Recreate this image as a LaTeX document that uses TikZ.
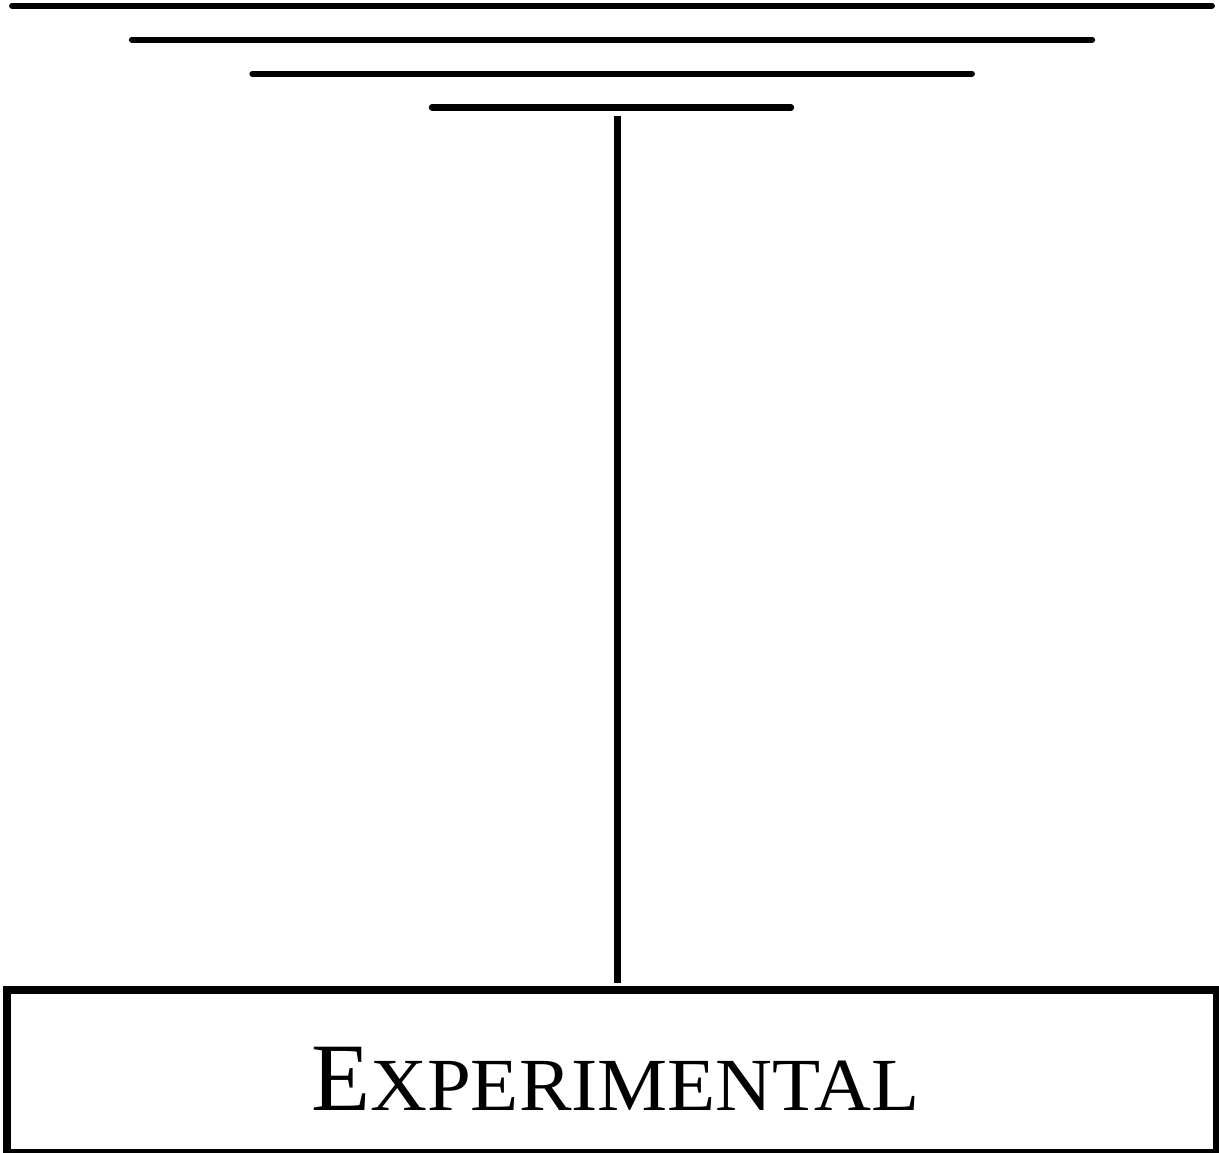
\documentclass[tikz,border=0pt]{standalone}
\usepackage{fontspec}
\setmainfont{Liberation Serif}
\begin{document}
\begin{tikzpicture}[x=1pt,y=-1pt,
  bar/.style={line width=6.3pt,line cap=round},
  stem/.style={line width=7pt},
  frame/.style={draw,line width=8pt,minimum width=1210pt,minimum height=163pt,inner sep=0pt},
  title/.style={inner sep=0pt,anchor=base west}]
\useasboundingbox (0,0) rectangle (1219,1153);
% stacked horizontal bars
\coordinate (b1l) at (12.2,5.7);   \coordinate (b1r) at (1211.8,5.7);
\coordinate (b2l) at (132,39.7);   \coordinate (b2r) at (1092,39.7);
\coordinate (b3l) at (252.5,73.8); \coordinate (b3r) at (971.8,73.8);
\coordinate (b4l) at (432,107.5);  \coordinate (b4r) at (791,107.5);
\draw[bar] (b1l) -- (b1r);
\draw[bar] (b2l) -- (b2r);
\draw[bar] (b3l) -- (b3r);
\draw[bar] (b4l) -- (b4r);
% box
\node[frame] (box) at (612,1071.5) {};
\node[title] (lbl) at (311,1110) {\fontsize{96.7}{100}\selectfont E\fontsize{75}{80}\selectfont\scalebox{1.05}[1]{XPERIMENTAL}};
% stem
\coordinate (st) at (617.5,116);
\coordinate (sb) at (617.5,982.7);
\draw[stem] (st) -- (sb);
\end{tikzpicture}
\end{document}
